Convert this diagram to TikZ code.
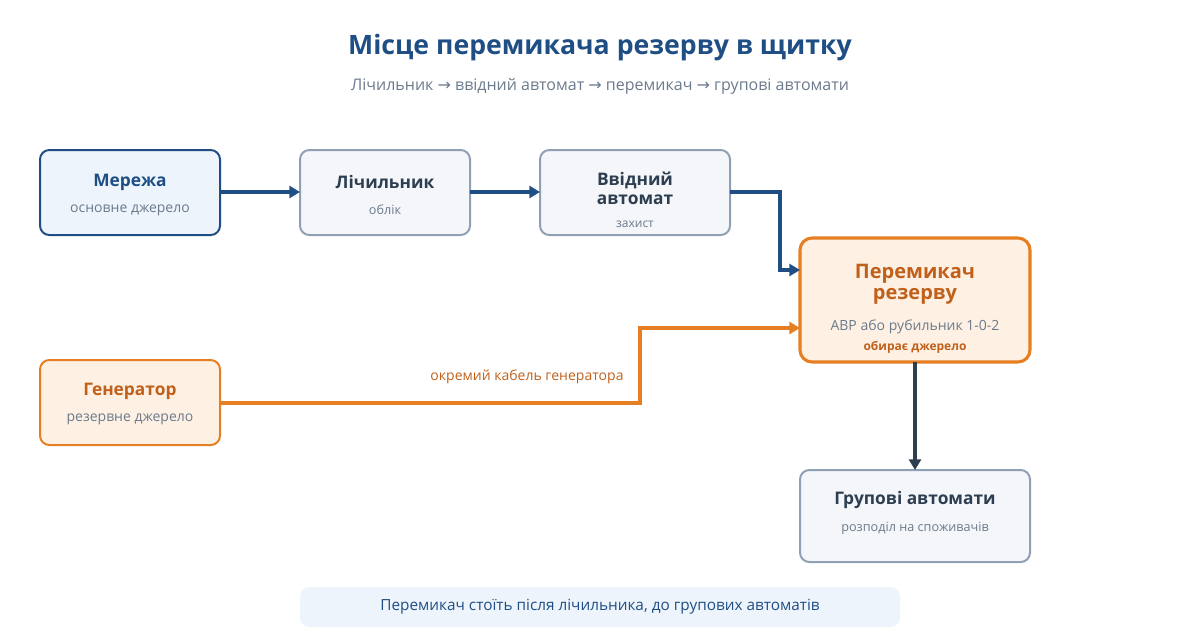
\documentclass[tikz,border=0pt]{standalone}
\usepackage{fontspec}
\setmainfont{Open Sans}
\newfontfamily\sym{DejaVu Sans}
\usetikzlibrary{arrows.meta}
\definecolor{navy}{HTML}{1F4E85}
\definecolor{dark}{HTML}{2C3E50}
\definecolor{grayb}{HTML}{8FA0B4}
\definecolor{grayf}{HTML}{F4F6FA}
\definecolor{bluef}{HTML}{EEF4FB}
\definecolor{orng}{HTML}{E67E22}
\definecolor{orngf}{HTML}{FEF1E4}
\definecolor{orngt}{HTML}{C0601A}
\definecolor{subt}{HTML}{6B7A8C}
\begin{document}
\begin{tikzpicture}[x=0.75pt,y=-0.75pt,
 box/.style={draw=grayb,fill=grayf,line width=1.5pt,rounded corners=7pt},
 t/.style={font=\bfseries\fontsize{13}{16}\selectfont,text=dark,align=center},
 s/.style={font=\fontsize{10.5}{12}\selectfont,text=subt},
 arr/.style={line width=2.3pt,-{Triangle[length=8pt,width=9pt]}}]
\useasboundingbox (0,0) rectangle (1200,640);
\node[font=\bfseries\fontsize{20}{24}\selectfont,text=navy] (title) at (600,48) {Місце перемикача резерву в щитку};
\node[font=\fontsize{12}{14}\selectfont,text=subt] (sub) at (600,86) {Лічильник {\sym→} ввідний автомат {\sym→} перемикач {\sym→} групові автомати};
% boxes
\draw[box,draw=navy,fill=bluef] (40,150) rectangle (220,235);
\node[t,text=navy] (m1) at (130,182) {Мережа};
\node[s] (m2) at (130,210) {основне джерело};
\draw[box] (300,150) rectangle (470,235);
\node[t] (l1) at (385,182) {Лічильник};
\node[s,font=\fontsize{9.5}{11}\selectfont] (l2) at (385,210) {облік};
\draw[box] (540,150) rectangle (730,235);
\node[t] (v1) at (635,188) {Ввідний\\[-2pt]автомат};
\node[s,font=\fontsize{9}{11}\selectfont] (v2) at (635,224) {захист};
\draw[box,draw=orng,fill=orngf,line width=2.3pt,rounded corners=9pt] (800,238) rectangle (1030,362);
\node[t,text=orngt,font=\bfseries\fontsize{15}{18}\selectfont] (p1) at (915,284) {Перемикач\\[-2pt]резерву};
\node[s] (p2) at (915,327) {АВР або рубильник 1-0-2};
\node[font=\bfseries\fontsize{9}{11}\selectfont,text=orngt] (p3) at (915,347) {обирає джерело};
\draw[box,draw=orng,fill=orngf] (40,360) rectangle (220,445);
\node[t,text=orngt] (g1) at (130,391) {Генератор};
\node[s] (g2) at (130,419) {резервне джерело};
\draw[box] (800,470) rectangle (1030,562);
\node[t] (gr1) at (915,500) {Групові автомати};
\node[s,font=\fontsize{9.5}{11}\selectfont] (gr2) at (915,528) {розподіл на споживачів};
\fill[bluef,rounded corners=7pt] (300,587) rectangle (900,627);
\node[font=\fontsize{11.5}{14}\selectfont,text=navy] (foot) at (600,607) {Перемикач стоїть після лічильника, до групових автоматів};
% arrows
\coordinate (a1) at (220,192); \coordinate (a2) at (300,192);
\coordinate (b1) at (470,192); \coordinate (b2) at (540,192);
\coordinate (c1) at (730,192); \coordinate (c2) at (800,270);
\coordinate (d1) at (220,403); \coordinate (d2) at (800,328);
\coordinate (e1) at (915,362); \coordinate (e2) at (915,470);
\draw[arr,navy] (a1) -- (a2);
\draw[arr,navy] (b1) -- (b2);
\draw[arr,navy] (c1) -- (780,192) -- (780,270) -- (c2);
\draw[arr,orng] (d1) -- (640,403) -- (640,328) -- (d2);
\node[font=\fontsize{10.5}{12}\selectfont,text=orngt] (lab) at (527,377) {окремий кабель генератора};
\draw[arr,dark] (e1) -- (e2);
\end{tikzpicture}
\end{document}
